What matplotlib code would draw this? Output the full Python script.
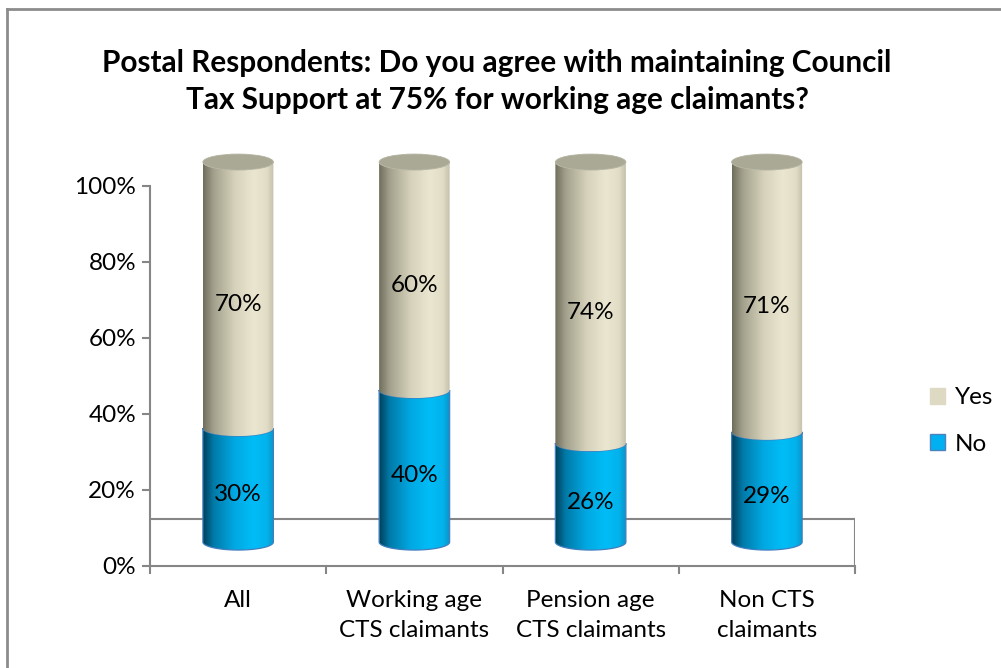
import numpy as np
import matplotlib
matplotlib.use('Agg')
import matplotlib.pyplot as plt
from matplotlib.path import Path
from matplotlib.patches import PathPatch, Ellipse, Patch
from matplotlib.colors import LinearSegmentedColormap
from matplotlib.lines import Line2D

categories = ['All', 'Working age\nCTS claimants', 'Pension age\nCTS claimants', 'Non CTS\nclaimants']
no_pct = [30, 40, 26, 29]
yes_pct = [70, 60, 74, 71]

plt.rcParams['font.family'] = ['Lato', 'DejaVu Sans']

W, H = 1001, 668
FS = 17.5
fig = plt.figure(figsize=(W / 100, H / 100), dpi=100)
ax = fig.add_axes([150 / W, 102 / H, 705 / W, 112 * 3.8 / H])

DEPTH = 6.3    # cylinders stand this far back on the floor
HW = 0.2       # half width of a cylinder (category units)
EH = 2.1       # half height of the end ellipses (percent units)
FLOOR = 12.4   # back edge of the floor
GREY = '#868686'

shade_yes = LinearSegmentedColormap.from_list('yes', [
    (0.0, '#6f6e5c'), (0.15, '#a3a18d'), (0.45, '#d6d2bb'),
    (0.72, '#ebe6cf'), (0.9, '#e2ddc6'), (1.0, '#c4c0aa')])
shade_no = LinearSegmentedColormap.from_list('no', [
    (0.0, '#00405c'), (0.15, '#007aa8'), (0.45, '#00a9e3'),
    (0.72, '#00bdf7'), (0.9, '#03b2ec'), (1.0, '#0a95c8')])
grad = np.linspace(0, 1, 256).reshape(1, -1)


def side_path(cx, y0, y1, n=80):
    t = np.linspace(np.pi, 2 * np.pi, n)
    bottom = np.column_stack([cx + HW * np.cos(t), y0 + EH * np.sin(t)])
    top = bottom[::-1].copy()
    top[:, 1] += y1 - y0
    verts = np.vstack([bottom, top, bottom[:1]])
    codes = [Path.MOVETO] + [Path.LINETO] * (len(verts) - 2) + [Path.CLOSEPOLY]
    return Path(verts, codes)


def cylinder_segment(cx, y0, y1, cmap, edge, z):
    patch = PathPatch(side_path(cx, y0, y1), facecolor='none', edgecolor='none', zorder=z)
    ax.add_patch(patch)
    im = ax.imshow(grad, cmap=cmap, extent=[cx - HW, cx + HW, y0 - EH, y1 + EH],
                   aspect='auto', interpolation='bilinear', zorder=z)
    im.set_clip_path(patch)
    if edge:
        ax.add_patch(PathPatch(side_path(cx, y0, y1), facecolor='none',
                               edgecolor=edge, lw=0.9, zorder=z + 0.1))


# floor
ax.plot([0, 4], [FLOOR, FLOOR], color=GREY, lw=1.5, zorder=1)
ax.plot([4, 4], [0, FLOOR], color=GREY, lw=1.5, zorder=1)

for i, (n, y) in enumerate(zip(no_pct, yes_pct)):
    cx = i + 0.5
    base = DEPTH
    cylinder_segment(cx, base, base + n, shade_no, '#3f7fbf', 2)
    cylinder_segment(cx, base + n, base + n + y, shade_yes, None, 3)
    ax.add_patch(Ellipse((cx, base + n + y), 2 * HW, 2 * EH,
                         facecolor='#aaa996', edgecolor='#b4b3a1', lw=0.6, zorder=4))
    ax.text(cx, n / 2 + 3.7, f'{n}%', ha='center', va='center', fontsize=FS, zorder=5)
    ax.text(cx, n + y / 2 + 3.7, f'{y}%', ha='center', va='center', fontsize=FS, zorder=5)

ax.set_xlim(0, 4)
ax.set_ylim(0, 112)

for side in ['top', 'right']:
    ax.spines[side].set_visible(False)
for side in ['left', 'bottom']:
    ax.spines[side].set_color(GREY)
    ax.spines[side].set_linewidth(1.5)
ax.spines['left'].set_bounds(0, 100)

ax.set_yticks(range(0, 101, 20))
ax.set_yticklabels([f'{v}%' for v in range(0, 101, 20)])
ax.set_xticks(range(0, 5))
ax.set_xticklabels([])
ax.set_xticks(np.arange(4) + 0.5, minor=True)
ax.set_xticklabels(categories, minor=True, linespacing=1.55)
ax.tick_params(axis='both', which='major', direction='out', length=6,
               color=GREY, width=1.5, labelsize=FS, pad=4)
ax.tick_params(axis='x', which='minor', length=0, labelsize=FS, pad=17)

ax.legend(handles=[Patch(facecolor='#ddd9c3', edgecolor='#ddd9c3', label='Yes'),
                   Patch(facecolor='#00b0f0', edgecolor='#4f81bd', label='No')],
          loc='center left', bbox_to_anchor=(918 / W, 1 - 421 / H), bbox_transform=fig.transFigure,
          frameon=False, fontsize=FS, handlelength=0.62, handleheight=0.62,
          handletextpad=0.4, labelspacing=1.05, borderpad=0)

fig.text(497 / W, 1 - 49 / H,
         'Postal Respondents: Do you agree with maintaining Council\n'
         'Tax Support at 75% for working age claimants?',
         ha='center', va='top', fontsize=21.4, fontweight='bold', linespacing=1.38)

# chart frame
fig.add_artist(Line2D([7 / W, 7 / W], [0, 1 - 9 / H], color='#8c8c8c', lw=2,
                      transform=fig.transFigure))
fig.add_artist(Line2D([7 / W, 1], [1 - 9 / H, 1 - 9 / H], color='#8c8c8c', lw=2,
                      transform=fig.transFigure))

fig.savefig('out.png', dpi=100)
